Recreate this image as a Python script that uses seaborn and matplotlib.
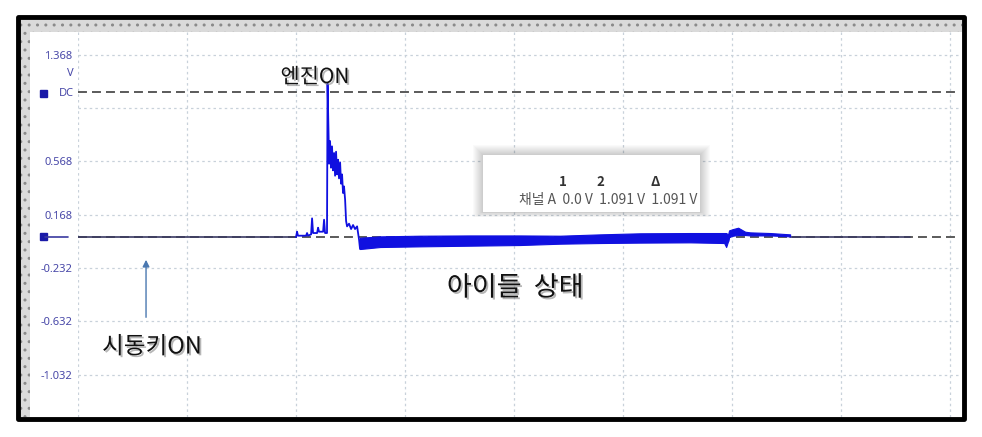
import numpy as np
import pandas as pd
import seaborn as sns
import matplotlib.pyplot as plt
import matplotlib.patheffects as pe
from matplotlib.patches import Rectangle
from matplotlib.lines import Line2D

# ---------- DATA (x in screen divisions, y in volts)
# flat trace before cranking
idle_x = [0.0, 2.000]
idle_y = [0.0, 0.0]

# engine start burst
burst_x = [2.000, 2.009, 2.018, 2.092, 2.101, 2.110, 2.138, 2.147, 2.156, 2.193, 2.202,
           2.211, 2.248, 2.257, 2.266, 2.284, 2.289, 2.298, 2.303, 2.312, 2.321, 2.330,
           2.339, 2.349, 2.358, 2.367, 2.376, 2.385, 2.394, 2.404, 2.413, 2.422, 2.431,
           2.440, 2.450, 2.459, 2.468, 2.486, 2.505, 2.523, 2.541, 2.560, 2.578, 2.587]
burst_y = [0.0, 0.04, 0.01, 0.01, 0.03, 0.01, 0.02, 0.14, 0.03, 0.03, 0.07,
           0.04, 0.04, 0.13, 0.03, 0.03, 1.15, 0.78, 0.55, 0.72, 0.52, 0.68,
           0.50, 0.63, 0.46, 0.64, 0.47, 0.58, 0.44, 0.56, 0.40, 0.47, 0.33,
           0.38, 0.28, 0.12, 0.08, 0.10, 0.06, 0.09, 0.06, 0.08, -0.02, -0.09]

# idle noise band (upper / lower envelope)
band_x  = [2.587, 2.771, 3.138, 3.596, 4.055, 4.422, 4.789, 5.156, 5.615, 5.927, 5.945, 5.963]
band_hi = [-0.005, 0.005, 0.010, 0.012, 0.012, 0.010, 0.020, 0.028, 0.030, 0.030, 0.030, 0.020]
band_lo = [-0.090, -0.075, -0.070, -0.065, -0.060, -0.050, -0.045, -0.042, -0.040, -0.045, -0.075, -0.030]

# small bump at the end
bump_x  = [5.963, 5.972, 6.009, 6.055, 6.119, 6.165, 6.349, 6.532]
bump_hi = [0.020, 0.050, 0.060, 0.070, 0.040, 0.035, 0.030, 0.020]
bump_lo = [-0.030, 0.000, 0.010, 0.015, 0.015, 0.012, 0.012, 0.005]

tail_x = [6.532, 7.633]
tail_y = [0.0, 0.0]

grid_y = [1.368, 0.968, 0.568, 0.168, -0.232, -0.632, -1.032]
tick_labels = ["1.368", "", "0.568", "0.168", "-0.232", "-0.632", "-1.032"]
dc_level = 1.091

FIG_W, FIG_H = 982, 437
def fx(px):
    return px / FIG_W
def fy(py):
    return 1 - py / FIG_H

# ---------- FIGURE
sns.set_theme(style="white")
plt.rcParams['font.family'] = ['Noto Sans CJK KR', 'DejaVu Sans']

fig = plt.figure(figsize=(9.82, 4.37), dpi=100)
fig.patch.set_facecolor("white")

# frame: dotted grey strips + thick black border
fig.add_artist(Rectangle((fx(20), fy(32)), fx(942), 12 / FIG_H, transform=fig.transFigure,
                         facecolor="#dadada", edgecolor="#8a8a8a", lw=0, hatch=".."))
fig.add_artist(Rectangle((fx(20), fy(417)), fx(10), 397 / FIG_H, transform=fig.transFigure,
                         facecolor="#dadada", edgecolor="#8a8a8a", lw=0, hatch=".."))
fig.add_artist(Rectangle((fx(18), fy(419)), fx(946), 402 / FIG_H, transform=fig.transFigure,
                         fill=False, edgecolor="black", lw=3.5, joinstyle="round", zorder=10))

ax = fig.add_axes([fx(78), fy(417), fx(960 - 78), (417 - 32) / FIG_H])
ax.set_facecolor("none")
ax.set_xlim(0, 8.09)
ax.set_ylim(-1.350, 1.538)
for s in ax.spines.values():
    s.set_visible(False)

ax.set_xticks(range(0, 9))
ax.set_xticklabels([])
ax.set_yticks(grid_y)
ax.set_yticklabels(tick_labels)
ax.tick_params(axis="both", length=0)
ax.tick_params(axis="y", pad=4, labelsize=8, labelcolor="#4848a8")
for lab in ax.get_yticklabels():
    lab.set_fontfamily(["Noto Sans", "DejaVu Sans"])
ax.grid(True, linestyle=(0, (2, 2.5)), color="#c8d1da", lw=0.9)

# reference dashed lines
ax.axhline(dc_level, color="#5a5a5a", lw=1.4, dashes=(4.6, 2.6), zorder=2)
ax.axhline(0.0, color="#5a5a5a", lw=1.4, dashes=(4.6, 2.6), zorder=2)

# signal
blue = "#1010e0"
dark = "#3a3a62"
sns.lineplot(x=idle_x, y=idle_y, ax=ax, color=dark, lw=1.2, sort=False, estimator=None, zorder=3)
sns.lineplot(x=tail_x, y=tail_y, ax=ax, color=dark, lw=1.2, sort=False, estimator=None, zorder=3)
sns.lineplot(x=burst_x, y=burst_y, ax=ax, color=blue, lw=1.3, sort=False, estimator=None, zorder=4)
ax.fill_between(band_x, band_lo, band_hi, color=blue, lw=0.8, edgecolor=blue, zorder=4)
ax.fill_between(bump_x, bump_lo, bump_hi, color=blue, lw=0.8, edgecolor=blue, zorder=4)

# channel markers / labels at left
fig.text(fx(74), fy(74), "V", ha="right", va="center", fontsize=8, color="#4848a8",
         family=["Noto Sans", "DejaVu Sans"])
fig.text(fx(74), fy(93), "DC", ha="right", va="center", fontsize=8, color="#4848a8",
         family=["Noto Sans", "DejaVu Sans"])
for py in (93, 237):
    fig.add_artist(Rectangle((fx(39.5), fy(py + 3.5)), fx(7), 7 / FIG_H,
                             transform=fig.transFigure, facecolor="#1a1aa8", edgecolor="#1a1aa8"))
fig.add_artist(Line2D([fx(45), fx(68)], [fy(237), fy(237)], transform=fig.transFigure,
                      color="#3a3aa0", lw=1.2))

# info box with soft shadow
for grow in range(10, 0, -1):
    fig.add_artist(Rectangle((fx(483 - grow), fy(212 + grow * 0.5)), fx(217 + 2 * grow),
                             (57 + grow * 1.5) / FIG_H, transform=fig.transFigure,
                             facecolor="black", alpha=0.018, lw=0, zorder=5))
fig.add_artist(Rectangle((fx(483), fy(212)), fx(217), 57 / FIG_H, transform=fig.transFigure,
                         facecolor="white", lw=0, zorder=6))
for hx, htxt in [(563, "1"), (600, "2"), (655, "Δ")]:
    fig.text(fx(hx), fy(182), htxt, ha="center", va="center", fontsize=9.5, fontweight="bold",
             color="#333333", zorder=7)
fig.text(fx(697), fy(200), "채널 A  0.0 V  1.091 V  1.091 V", ha="right", va="center",
         fontsize=10, color="#555555", zorder=7)

# annotations
shadow = [pe.SimplePatchShadow(offset=(1.3, -1.3), shadow_rgbFace="#888888", alpha=0.6), pe.Normal()]
ax.text(2.174, 1.20, "엔진ON", ha="center", va="center", fontsize=15, fontweight="medium",
        color="#111111", path_effects=shadow, zorder=8)
ax.text(4.01, -0.383, "아이들  상태", ha="center", va="center", fontsize=19.5, fontweight="medium",
        color="#111111", path_effects=shadow, zorder=8)
ax.text(0.679, -0.825, "시동키ON", ha="center", va="center", fontsize=17, fontweight="medium",
        color="#111111", path_effects=shadow, zorder=8)
ax.annotate("", xy=(0.624, -0.15), xytext=(0.624, -0.623),
            arrowprops=dict(arrowstyle="-|>", color="#4a78b0", lw=1.0, mutation_scale=10))

fig.savefig("out.png", dpi=100)
